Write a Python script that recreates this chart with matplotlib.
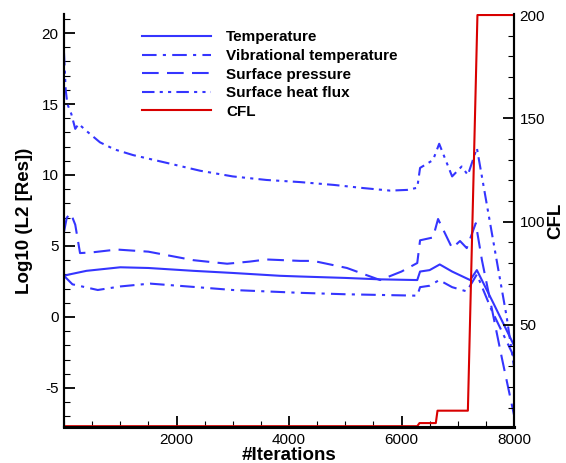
import numpy as np
import matplotlib
matplotlib.use("Agg")
import matplotlib.pyplot as plt
from matplotlib.ticker import MultipleLocator

plt.rcParams['font.family'] = ['Liberation Sans', 'DejaVu Sans']
plt.rcParams['axes.unicode_minus'] = False

# Residual histories
temp_it = [0, 100, 400, 1000, 1500, 2300, 3000, 3840, 4200, 5000, 5620, 6280, 6330,
           6500, 6680, 6900, 7220, 7340, 7630, 8000]
temp_res = [2.9, 3.0, 3.25, 3.5, 3.45, 3.25, 3.1, 2.9, 2.85, 2.75, 2.65, 2.6, 3.2,
            3.3, 3.7, 3.2, 2.6, 3.3, 1.0, -2.0]

vib_it = [0, 150, 600, 1000, 1530, 2360, 3000, 4200, 5000, 6280, 6330, 6500, 6670,
          6900, 7160, 7340, 7600, 8000]
vib_res = [2.9, 2.3, 1.9, 2.15, 2.35, 2.1, 1.9, 1.7, 1.6, 1.5, 2.1, 2.2, 2.6,
           2.1, 1.8, 3.0, 0.5, -2.8]

pres_it = [0, 50, 120, 200, 285, 500, 940, 1500, 2300, 2900, 3300, 3600, 4200, 4430,
           5030, 5620, 6000, 6280, 6330, 6560, 6650, 6900, 7040, 7160, 7320, 7430,
           7790, 8000]
pres_res = [6.0, 7.0, 7.3, 6.5, 4.5, 4.55, 4.75, 4.6, 4.0, 3.75, 3.9, 4.05, 3.95, 3.95,
            3.45, 2.6, 3.2, 3.8, 5.4, 5.6, 6.9, 4.85, 5.35, 4.85, 6.6, 4.0,
            -3.0, -6.9]

hf_it = [0, 30, 60, 130, 200, 260, 400, 640, 900, 1230, 1830, 2420, 3000, 3600, 4200,
         4800, 5320, 5800, 6100, 6280, 6330, 6560, 6670, 6900, 7070, 7180, 7340,
         7660, 7870, 8000]
hf_res = [18.6, 16.0, 15.0, 14.3, 13.25, 13.6, 13.1, 12.3, 11.8, 11.4, 10.85, 10.3, 9.9,
          9.65, 9.5, 9.3, 9.08, 8.9, 8.95, 9.1, 10.5, 11.05, 12.2, 9.9, 10.6, 10.0,
          11.9, 4.7, 0.0, -3.5]

cfl_it = [0, 6280, 6320, 6610, 6640, 7180, 7350, 8000]
cfl_val = [1, 1, 2.5, 2.5, 8.5, 8.5, 200, 200]

blue = '#3535ff'
red = '#d80000'

fig = plt.figure(figsize=(5.66, 4.63), dpi=100)
ax = fig.add_axes([64 / 566, 1 - 427 / 463, 450 / 566, 413 / 463])
ax2 = ax.twinx()

l1, = ax.plot(temp_it, temp_res, color=blue, lw=1.5, ls='-', label='Temperature')
l2, = ax.plot(vib_it, vib_res, color=blue, lw=1.5, ls=(0, (7, 3, 1.5, 3)),
              label='Vibrational temperature')
l3, = ax.plot(pres_it, pres_res, color=blue, lw=1.5, ls=(0, (8, 4)),
              label='Surface pressure')
l4, = ax.plot(hf_it, hf_res, color=blue, lw=1.5, ls=(0, (6, 2.5, 1.5, 2.5, 1.5, 2.5)),
              label='Surface heat flux')
l5, = ax2.plot(cfl_it, cfl_val, color=red, lw=1.5, label='CFL')

ax.set_xlim(0, 8000)
ax.set_ylim(-7.75, 21.34)
ax2.set_ylim(0.6, 200.5)

ax.set_xticks([2000, 4000, 6000, 8000])
ax.xaxis.set_minor_locator(MultipleLocator(500))
ax.set_yticks([-5, 0, 5, 10, 15, 20])
ax.yaxis.set_minor_locator(MultipleLocator(1))
ax2.set_yticks([50, 100, 150, 200])
ax2.yaxis.set_minor_locator(MultipleLocator(10))

for a in (ax, ax2):
    a.spines['top'].set_visible(False)
    a.spines['left'].set_linewidth(1.5)
    a.spines['right'].set_linewidth(1.5)
    a.spines['bottom'].set_linewidth(2.2)
    a.tick_params(which='major', direction='in', length=8, width=1.3, labelsize=11,
                  pad=4)
    a.tick_params(which='minor', direction='in', length=4.5, width=0.8)
ax.tick_params(which='both', right=False, top=False)
ax2.tick_params(which='both', left=False, top=False, bottom=False)

ax.set_xlabel('#Iterations', fontsize=13.5, fontweight='bold', labelpad=0)
ax.set_ylabel('Log10 (L2 [Res])', fontsize=13.5, fontweight='bold', labelpad=6)
ax2.set_ylabel('CFL', fontsize=13.5, fontweight='bold', labelpad=1.5)

ax.legend(handles=[l1, l2, l3, l4, l5], loc='upper left',
          bbox_to_anchor=(0.16, 0.975), frameon=False,
          prop={'weight': 'bold', 'size': 11}, handlelength=4.5,
          handletextpad=1.0, labelspacing=0.3, borderaxespad=0)

fig.savefig('out.png', dpi=100)
